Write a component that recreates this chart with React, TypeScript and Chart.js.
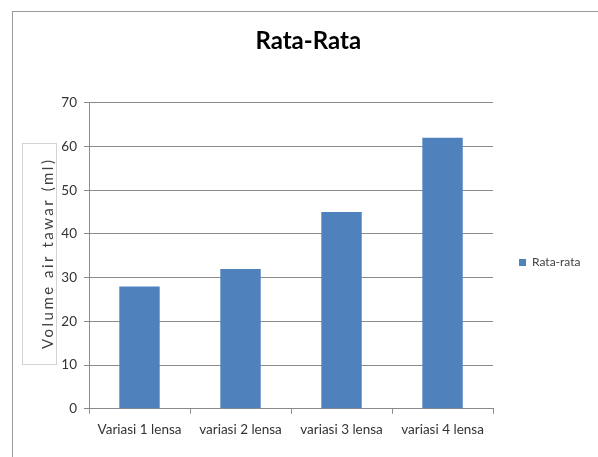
import React, { useEffect, useRef } from "react";
import { Chart, registerables } from "chart.js";

Chart.register(...registerables);

const categories = ["Variasi 1 lensa", "variasi 2 lensa", "variasi 3 lensa", "variasi 4 lensa"];
const seriesLabel = "Rata-rata";
const values = [28, 32, 45, 62];
const chartTitle = "Rata-Rata";
const yAxisTitle = "Volume air tawar (ml)";
const yMin = 0;
const yMax = 70;
const yStep = 10;

const FONT = "Lato, 'Liberation Sans', sans-serif";

const decorPlugin = {
  id: "decor",
  beforeDraw(chart: any) {
    const ctx = chart.ctx;
    ctx.save();
    ctx.strokeStyle = "#9a9a9a";
    ctx.lineWidth = 1;
    ctx.strokeRect(12.5, 11.5, 800, 800);
    ctx.restore();
  },
  afterDraw(chart: any) {
    const ca = chart.chartArea;
    const ctx = chart.ctx;
    ctx.save();
    const left = ca.left - 67;
    const right = ca.left - 33;
    const top = ca.top + 40;
    const bottom = ca.bottom - 45;
    ctx.strokeStyle = "#d4d4d4";
    ctx.lineWidth = 1;
    ctx.strokeRect(Math.round(left) + 0.5, Math.round(top) + 0.5, right - left, bottom - top);
    ctx.translate(ca.left - 41, (top + bottom) / 2);
    ctx.rotate(-Math.PI / 2);
    ctx.font = "15px " + FONT;
    (ctx as any).letterSpacing = "2.5px";
    ctx.fillStyle = "#404040";
    ctx.textAlign = "center";
    ctx.textBaseline = "middle";
    ctx.fillText(yAxisTitle, 0, 0);
    ctx.restore();
  },
};

export default function App() {
  const ref = useRef<HTMLCanvasElement>(null);
  useEffect(() => {
    if (!ref.current) return;
    const chart = new Chart(ref.current, {
      type: "bar",
      data: {
        labels: categories,
        datasets: [
          {
            label: seriesLabel,
            data: values,
            backgroundColor: "#4F81BD",
            borderWidth: 0,
            barPercentage: 0.4,
            categoryPercentage: 1,
          },
        ],
      },
      options: {
        animation: false,
        responsive: false,
        devicePixelRatio: 1,
        layout: { padding: { left: 26, right: 7.5, top: 0, bottom: 11 } },
        plugins: {
          title: {
            display: true,
            text: chartTitle,
            color: "#000000",
            font: { family: FONT, size: 24, weight: "bold" },
            padding: { top: 27, bottom: 47 },
          },
          legend: {
            display: true,
            position: "right",
            fullSize: false,
            title: { display: true, text: " ", font: { size: 1 }, padding: 6 },
            labels: {
              boxWidth: 7,
              boxHeight: 7,
              padding: 26,
              color: "#404040",
              font: { family: FONT, size: 12 },
            },
          },
          tooltip: { enabled: false },
        },
        scales: {
          x: {
            grid: {
              display: true,
              drawOnChartArea: false,
              drawTicks: true,
              tickLength: 5,
              offset: true,
              color: "#8a8a8a",
            },
            border: { display: true, color: "#8a8a8a" },
            ticks: {
              color: "#333333",
              font: { family: FONT, size: 13.5 },
              padding: 8,
              maxRotation: 0,
              autoSkip: false,
            },
          },
          y: {
            min: yMin,
            max: yMax,
            afterFit(scale: any) {
              scale.width = 63;
            },
            grid: {
              color: "#8a8a8a",
              tickLength: 5,
            },
            border: { display: true, color: "#8a8a8a" },
            ticks: {
              stepSize: yStep,
              color: "#333333",
              font: { family: FONT, size: 13.5 },
              padding: 7,
            },
          },
        },
      },
      plugins: [decorPlugin],
    });
    return () => chart.destroy();
  }, []);
  return (
    <div style={{ position: "absolute", left: 0, top: 0, width: 598, height: 457, background: "#fff" }}>
      <canvas ref={ref} width={598} height={457} style={{ display: "block" }} />
    </div>
  );
}
